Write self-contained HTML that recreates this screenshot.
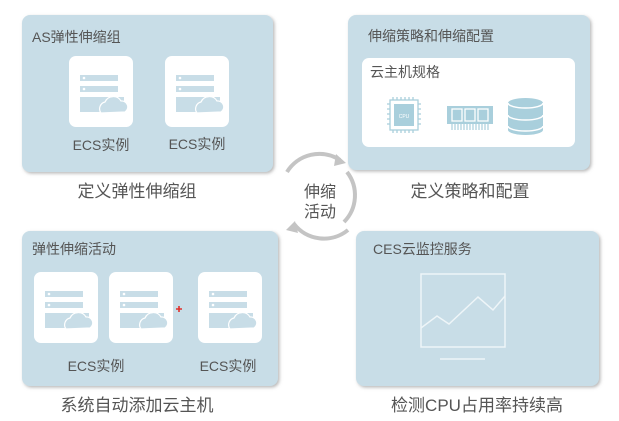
<!DOCTYPE html>
<html><head><meta charset="utf-8"><style>
html,body{margin:0;padding:0;background:#fff;width:619px;height:421px;overflow:hidden}
svg{display:block}
text{font-family:"Liberation Sans","Noto Sans CJK SC",sans-serif;fill:#555}
</style></head><body>
<svg width="619" height="421" viewBox="0 0 619 421" xmlns="http://www.w3.org/2000/svg">
<defs>
<filter id="sh" x="-10%" y="-10%" width="120%" height="120%"><feDropShadow dx="1.5" dy="1.5" stdDeviation="1.5" flood-color="#888" flood-opacity="0.6"/></filter>
<g id="card">
<rect x="0" y="0" width="64" height="71" rx="7" fill="#fff"/>
<rect x="11" y="19" width="38" height="6" fill="#c8dde7"/>
<circle cx="15" cy="22" r="1.3" fill="#fff"/>
<rect x="11" y="30" width="38" height="6" fill="#c8dde7"/>
<circle cx="15" cy="33" r="1.3" fill="#fff"/>
<rect x="11" y="41" width="44" height="15" fill="#c8dde7"/>
<path d="M32 57 a7 7 0 0 1 4 -11 a9 9 0 0 1 16 -1 a6 6 0 0 1 4 11 z" fill="#c8dde7" stroke="#fff" stroke-width="1.2"/>
</g>
</defs>
<rect x="22" y="15" width="251" height="157" rx="8" fill="#c8dde7" filter="url(#sh)"/>
<rect x="348" y="15" width="242" height="155" rx="8" fill="#c8dde7" filter="url(#sh)"/>
<rect x="22" y="231" width="256" height="155" rx="8" fill="#c8dde7" filter="url(#sh)"/>
<rect x="356" y="231" width="243" height="155" rx="8" fill="#c8dde7" filter="url(#sh)"/>

<text x="32" y="42" font-size="14">AS弹性伸缩组</text>
<use href="#card" x="69" y="56"/>
<use href="#card" x="165" y="56"/>
<text x="101" y="150" font-size="14" text-anchor="middle">ECS实例</text>
<text x="197" y="149" font-size="14" text-anchor="middle">ECS实例</text>
<text x="137" y="197" font-size="17" text-anchor="middle">定义弹性伸缩组</text>

<text x="368" y="41" font-size="14">伸缩策略和伸缩配置</text>
<rect x="362" y="58" width="213" height="89" rx="7" fill="#fff"/>
<text x="370" y="77" font-size="14">云主机规格</text>
<g fill="none" stroke="#a9cfdc" stroke-width="1.3">
<rect x="390" y="100" width="28" height="30"/>
<path d="M393 97v3M397 97v3M401 97v3M405 97v3M409 97v3M413 97v3M393 130v3M397 130v3M401 130v3M405 130v3M409 130v3M413 130v3M387 104h3M387 109h3M387 114h3M387 119h3M387 124h3M418 104h3M418 109h3M418 114h3M418 119h3M418 124h3"/>
</g>
<rect x="394" y="104" width="20" height="22" fill="#a9cfdc"/>
<text x="404" y="118" font-size="5" text-anchor="middle" style="fill:#fff">CPU</text>
<rect x="447" y="106" width="46" height="18" fill="#a9cfdc"/>
<rect x="452" y="109" width="10" height="12" fill="none" stroke="#fff" stroke-width="1.3"/>
<rect x="465" y="109" width="10" height="12" fill="none" stroke="#fff" stroke-width="1.3"/>
<rect x="478" y="109" width="10" height="12" fill="none" stroke="#fff" stroke-width="1.3"/>
<path d="M452 124v6M455 124v6M458 124v6M461 124v6M464 124v6M467 124v6M470 124v6M473 124v6M476 124v6M479 124v6M482 124v6M485 124v6M488 124v6" stroke="#a9cfdc" stroke-width="1.2"/>
<path d="M508 103 a17.5 5 0 0 1 35 0 v27 a17.5 5 0 0 1 -35 0 z" fill="#a9cfdc"/>
<path d="M508 103 a17.5 5 0 0 0 35 0 M508 115 a17.5 5 0 0 0 35 0 M508 126 a17.5 5 0 0 0 35 0" fill="none" stroke="#fff" stroke-width="1.5"/>
<text x="470" y="197" font-size="17" text-anchor="middle">定义策略和配置</text>

<g fill="none" stroke="#c4c4c4" stroke-width="4">
<path d="M287 172 A38 38 0 0 1 340 160"/>
<path d="M347 172 A38 38 0 0 1 344 222"/>
<path d="M348 230 A38 38 0 0 1 294 224"/>
</g>
<path d="M336 154 L346 163 L334 166 z" fill="#c4c4c4"/>
<path d="M298 233 L286 230 L295 221 z" fill="#c4c4c4"/>
<text x="320" y="197" font-size="16" text-anchor="middle">伸缩</text>
<text x="320" y="217" font-size="16" text-anchor="middle">活动</text>

<text x="32" y="254" font-size="14">弹性伸缩活动</text>
<use href="#card" x="34" y="272"/>
<use href="#card" x="109" y="272"/>
<use href="#card" x="198" y="272"/>
<path d="M176 309h6M179 306v6" stroke="#e0302b" stroke-width="1.6"/>
<text x="96" y="371" font-size="14" text-anchor="middle">ECS实例</text>
<text x="228" y="371" font-size="14" text-anchor="middle">ECS实例</text>
<text x="137" y="411" font-size="17" text-anchor="middle">系统自动添加云主机</text>

<text x="373" y="254" font-size="14">CES云监控服务</text>
<rect x="421" y="274" width="84" height="73" fill="none" stroke="#eef5f8" stroke-width="1.5"/>
<polyline points="421,328 437,316 449,324 478,297 493,310 505,296" fill="none" stroke="#eef5f8" stroke-width="1.5"/>
<line x1="440" y1="359" x2="485" y2="359" stroke="#eef5f8" stroke-width="1.5"/>
<text x="477" y="411" font-size="17" text-anchor="middle">检测CPU占用率持续高</text>
</svg>
</body></html>
